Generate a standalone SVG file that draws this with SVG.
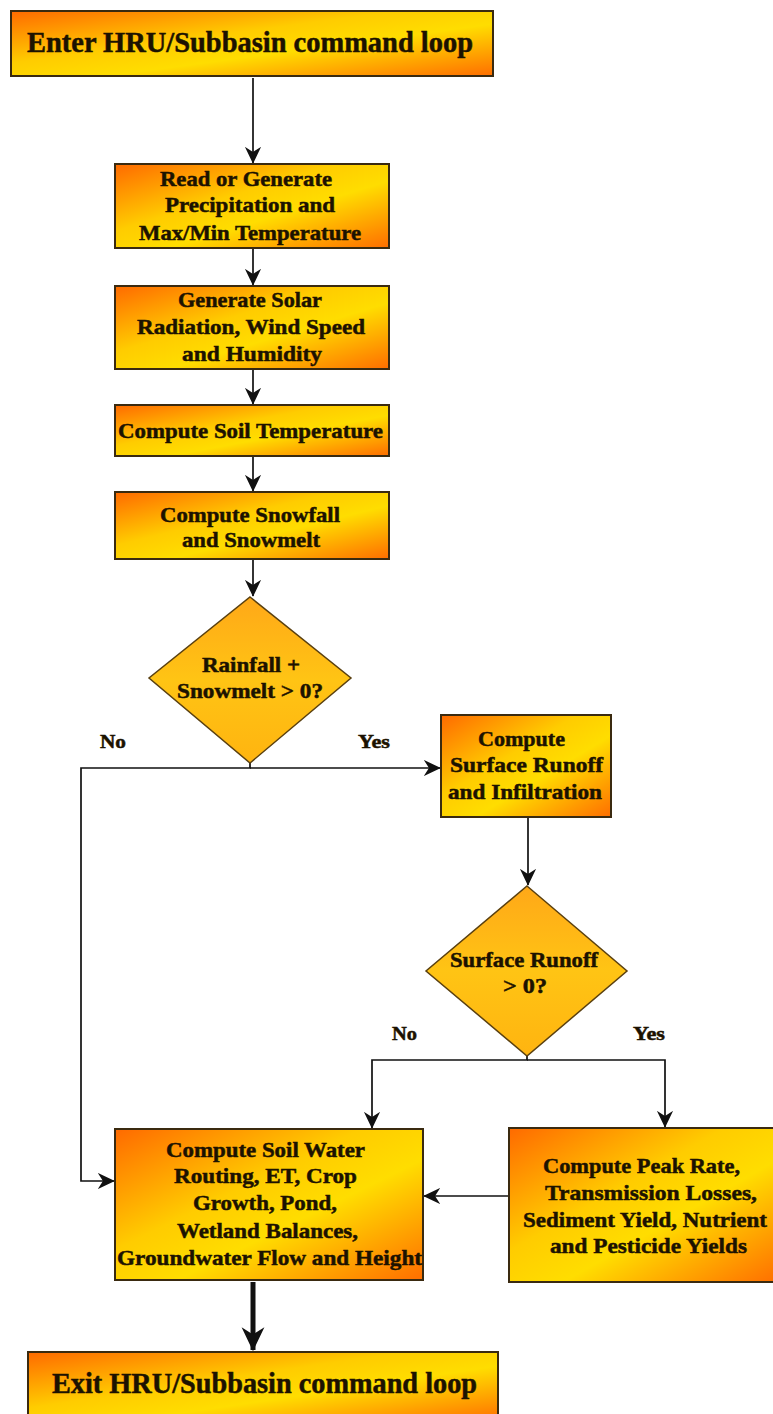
<svg xmlns="http://www.w3.org/2000/svg" width="773" height="1414" viewBox="0 0 773 1414">
<defs>
<linearGradient id="boxg" x1="0" y1="0" x2="1" y2="1">
<stop offset="0" stop-color="#FF6A00"/>
<stop offset="0.4" stop-color="#FFCC00"/>
<stop offset="0.6" stop-color="#FFDD00"/>
<stop offset="1" stop-color="#FF6E00"/>
</linearGradient>
<linearGradient id="diag" x1="0" y1="0" x2="0" y2="1">
<stop offset="0" stop-color="#FFA818"/>
<stop offset="0.5" stop-color="#FFC414"/>
<stop offset="1" stop-color="#FFB410"/>
</linearGradient>
<marker id="arr" viewBox="0 0 20 20" refX="19" refY="10" markerWidth="17" markerHeight="21" markerUnits="userSpaceOnUse" orient="auto">
<path d="M20,10 L0,0.5 L6,10 L0,19.5 Z" fill="#111"/>
</marker>
<marker id="arrbig" viewBox="0 0 20 20" refX="19" refY="10" markerWidth="24" markerHeight="32" markerUnits="userSpaceOnUse" orient="auto">
<path d="M20,10 L0,0.5 L6,10 L0,19.5 Z" fill="#111"/>
</marker>
</defs>
<style>
.box{fill:url(#boxg);stroke:#3a2a10;stroke-width:2}
.dia{fill:url(#diag);stroke:#5a4010;stroke-width:1.5}
text{font-family:"Liberation Serif","Times New Roman",serif;font-weight:bold;fill:#1c1200;stroke:#1c1200;stroke-width:0.5}
.t{font-size:22px}
.big{font-size:29px}
.lbl{font-size:19px}
.ln{fill:none;stroke:#111;stroke-width:1.7}
</style>
<rect width="773" height="1414" fill="#fff"/>

<g id="connectors">
<line class="ln" x1="253" y1="78" x2="253" y2="163" marker-end="url(#arr)"/>
<line class="ln" x1="253" y1="249" x2="253" y2="285" marker-end="url(#arr)"/>
<line class="ln" x1="253" y1="370" x2="253" y2="404" marker-end="url(#arr)"/>
<line class="ln" x1="253" y1="457" x2="253" y2="491" marker-end="url(#arr)"/>
<line class="ln" x1="253" y1="560" x2="253" y2="596" marker-end="url(#arr)"/>
<polyline class="ln" points="250,763 250,768 81,768 81,1181 114,1181" marker-end="url(#arr)"/>
<polyline class="ln" points="250,768 440,768" marker-end="url(#arr)"/>
<line class="ln" x1="528" y1="818" x2="528" y2="885" marker-end="url(#arr)"/>
<polyline class="ln" points="527,1056 527,1060 372,1060 372,1128" marker-end="url(#arr)"/>
<polyline class="ln" points="527,1060 665,1060 665,1127" marker-end="url(#arr)"/>
<line class="ln" x1="509" y1="1196" x2="424" y2="1196" marker-end="url(#arr)"/>
<line x1="253" y1="1282" x2="253" y2="1350" stroke="#111" stroke-width="5" marker-end="url(#arrbig)"/>
</g>

<g id="enter">
<rect class="box" x="11" y="11" width="482" height="65"/>
<text class="big" x="27" y="52" textLength="446" lengthAdjust="spacingAndGlyphs">Enter HRU/Subbasin command loop</text>
</g>

<g id="precip">
<rect class="box" x="115" y="164" width="274" height="84"/>
<text class="t" x="160" y="186" textLength="172" lengthAdjust="spacingAndGlyphs">Read or Generate</text>
<text class="t" x="165" y="212" textLength="170" lengthAdjust="spacingAndGlyphs">Precipitation and</text>
<text class="t" x="139" y="240" textLength="222" lengthAdjust="spacingAndGlyphs">Max/Min Temperature</text>
</g>

<g id="solar">
<rect class="box" x="115" y="286" width="274" height="83"/>
<text class="t" x="178" y="307" textLength="144" lengthAdjust="spacingAndGlyphs">Generate Solar</text>
<text class="t" x="137" y="334" textLength="228" lengthAdjust="spacingAndGlyphs">Radiation, Wind Speed</text>
<text class="t" x="182" y="361" textLength="140" lengthAdjust="spacingAndGlyphs">and Humidity</text>
</g>

<g id="soiltemp">
<rect class="box" x="115" y="405" width="274" height="51"/>
<text class="t" x="118" y="438" textLength="265" lengthAdjust="spacingAndGlyphs">Compute Soil Temperature</text>
</g>

<g id="snow">
<rect class="box" x="115" y="492" width="274" height="67"/>
<text class="t" x="160" y="522" textLength="180" lengthAdjust="spacingAndGlyphs">Compute Snowfall</text>
<text class="t" x="182" y="547" textLength="138" lengthAdjust="spacingAndGlyphs">and Snowmelt</text>
</g>

<g id="rain">
<polygon class="dia" points="250,597 351,678 250,763 149,678"/>
<text class="t" x="202" y="672" textLength="98" lengthAdjust="spacingAndGlyphs">Rainfall +</text>
<text class="t" x="177" y="698" textLength="146" lengthAdjust="spacingAndGlyphs">Snowmelt &gt; 0?</text>
<text class="lbl" x="100" y="748" textLength="26" lengthAdjust="spacingAndGlyphs">No</text>
<text class="lbl" x="358" y="748" textLength="32" lengthAdjust="spacingAndGlyphs">Yes</text>
</g>

<g id="surface">
<rect class="box" x="441" y="715" width="170" height="102"/>
<text class="t" x="478" y="746" textLength="87" lengthAdjust="spacingAndGlyphs">Compute</text>
<text class="t" x="450" y="772" textLength="153" lengthAdjust="spacingAndGlyphs">Surface Runoff</text>
<text class="t" x="448" y="799" textLength="154" lengthAdjust="spacingAndGlyphs">and Infiltration</text>
</g>

<g id="runoffq">
<polygon class="dia" points="527,886 627,971 527,1056 426,971"/>
<text class="t" x="450" y="967" textLength="148" lengthAdjust="spacingAndGlyphs">Surface Runoff</text>
<text class="t" x="503" y="993" textLength="44" lengthAdjust="spacingAndGlyphs">&gt; 0?</text>
<text class="lbl" x="392" y="1040" textLength="25" lengthAdjust="spacingAndGlyphs">No</text>
<text class="lbl" x="633" y="1040" textLength="32" lengthAdjust="spacingAndGlyphs">Yes</text>
</g>

<g id="soilwater">
<rect class="box" x="115" y="1129" width="308" height="151"/>
<text class="t" x="166" y="1157" textLength="199" lengthAdjust="spacingAndGlyphs">Compute Soil Water</text>
<text class="t" x="174" y="1183" textLength="183" lengthAdjust="spacingAndGlyphs">Routing, ET, Crop</text>
<text class="t" x="193" y="1210" textLength="144" lengthAdjust="spacingAndGlyphs">Growth, Pond,</text>
<text class="t" x="177" y="1238" textLength="181" lengthAdjust="spacingAndGlyphs">Wetland Balances,</text>
<text class="t" x="117" y="1265" textLength="305" lengthAdjust="spacingAndGlyphs">Groundwater Flow and Height</text>
</g>

<g id="peak">
<rect class="box" x="509" y="1128" width="270" height="154"/>
<text class="t" x="543" y="1173" textLength="197" lengthAdjust="spacingAndGlyphs">Compute Peak Rate,</text>
<text class="t" x="545" y="1200" textLength="212" lengthAdjust="spacingAndGlyphs">Transmission Losses,</text>
<text class="t" x="523" y="1227" textLength="244" lengthAdjust="spacingAndGlyphs">Sediment Yield, Nutrient</text>
<text class="t" x="550" y="1253" textLength="197" lengthAdjust="spacingAndGlyphs">and Pesticide Yields</text>
</g>

<g id="exit">
<rect class="box" x="28" y="1352" width="470" height="70"/>
<text class="big" x="52" y="1393" textLength="425" lengthAdjust="spacingAndGlyphs">Exit HRU/Subbasin command loop</text>
</g>
</svg>
